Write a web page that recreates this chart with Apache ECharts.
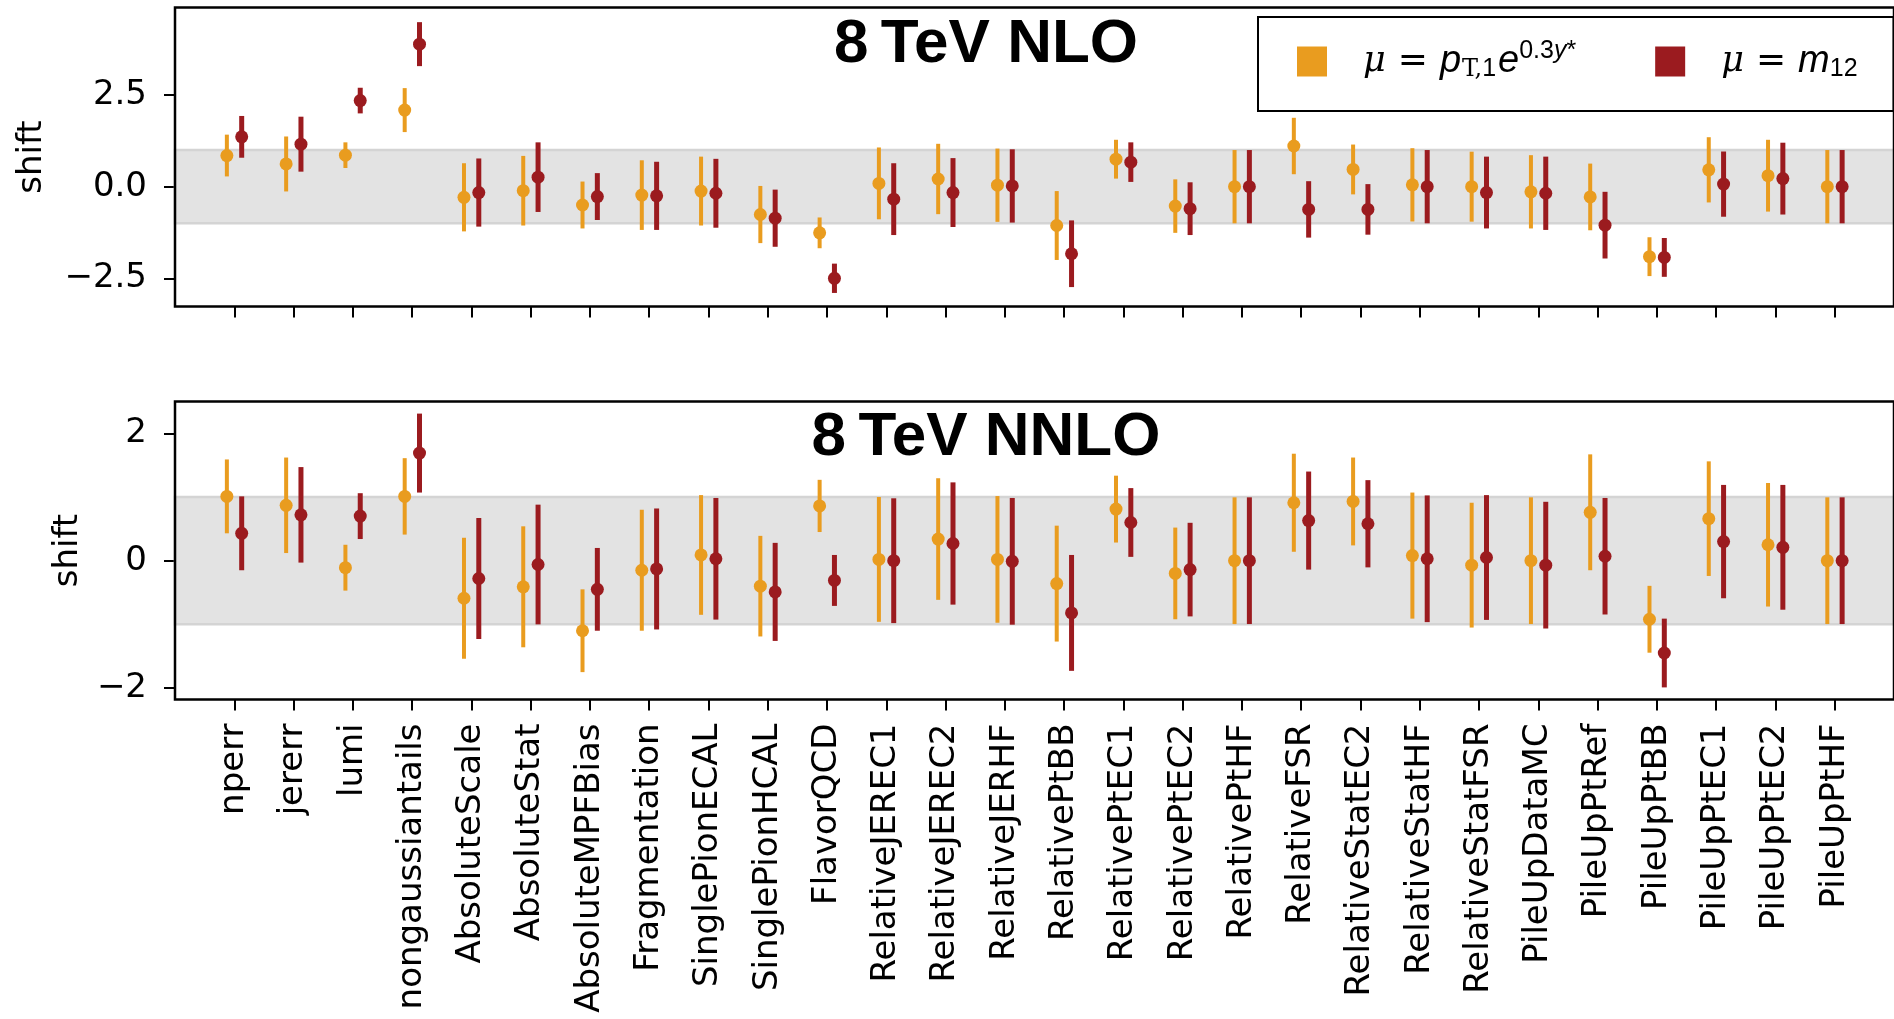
<!DOCTYPE html>
<html>
<head>
<meta charset="utf-8">
<script src="https://cdn.jsdelivr.net/npm/echarts@6/dist/echarts.min.js"></script>
<style>
  html, body { margin: 0; padding: 0; background: #fff; }
  #main { width: 1894px; height: 1019px; }
</style>
</head>
<body>
<div id="main"></div>
<script>
// 类别(不确定性来源)
const categories = ['nperr', 'jererr', 'lumi', 'nongaussiantails', 'AbsoluteScale', 'AbsoluteStat',
  'AbsoluteMPFBias', 'Fragmentation', 'SinglePionECAL', 'SinglePionHCAL', 'FlavorQCD',
  'RelativeJEREC1', 'RelativeJEREC2', 'RelativeJERHF', 'RelativePtBB', 'RelativePtEC1',
  'RelativePtEC2', 'RelativePtHF', 'RelativeFSR', 'RelativeStatEC2', 'RelativeStatHF',
  'RelativeStatFSR', 'PileUpDataMC', 'PileUpPtRef', 'PileUpPtBB', 'PileUpPtEC1',
  'PileUpPtEC2', 'PileUpPtHF']

// 8 TeV NLO, mu = pT,1 e^{0.3y*}
const nloPt = [0.85, 0.62, 0.86, 2.09, -0.29, -0.11, -0.5, -0.23, -0.12, -0.76, -1.26, 0.09, 0.21, 0.04,
  -1.06, 0.75, -0.53, 0.0, 1.11, 0.47, 0.05, 0.0, -0.14, -0.28, -1.91, 0.46, 0.3, 0.0]
const nloPtErr = [0.57, 0.75, 0.35, 0.6, 0.93, 0.95, 0.64, 0.95, 0.94, 0.78, 0.42, 0.98, 0.96, 1.0,
  0.94, 0.53, 0.73, 1.0, 0.77, 0.68, 1.0, 0.955, 1.0, 0.91, 0.53, 0.89, 0.98, 1.0]
// 8 TeV NLO, mu = m12
const nloM12 = [1.36, 1.16, 2.35, 3.89, -0.16, 0.26, -0.27, -0.25, -0.18, -0.86, -2.5, -0.34, -0.16, 0.02,
  -1.83, 0.67, -0.6, 0.0, -0.62, -0.62, 0.0, -0.16, -0.18, -1.05, -1.93, 0.07, 0.22, 0.0]
const nloM12Err = [0.57, 0.75, 0.35, 0.6, 0.93, 0.95, 0.64, 0.93, 0.94, 0.78, 0.4, 0.98, 0.94, 1.0,
  0.91, 0.54, 0.72, 1.0, 0.77, 0.69, 1.0, 0.98, 1.0, 0.91, 0.53, 0.89, 0.98, 1.0]

// 8 TeV NNLO
const nnloPt = [1.01, 0.87, -0.11, 1.01, -0.59, -0.41, -1.1, -0.15, 0.09, -0.4, 0.86, 0.02, 0.34, 0.02,
  -0.36, 0.81, -0.2, 0.0, 0.91, 0.93, 0.08, -0.07, 0.0, 0.76, -0.92, 0.66, 0.25, 0.0]
const nnloPtErr = [0.58, 0.75, 0.36, 0.6, 0.95, 0.95, 0.65, 0.95, 0.94, 0.79, 0.41, 0.98, 0.955, 0.995,
  0.91, 0.525, 0.72, 0.995, 0.77, 0.69, 0.99, 0.98, 0.995, 0.91, 0.525, 0.9, 0.97, 0.995]
const nnloM12 = [0.43, 0.72, 0.7, 1.69, -0.28, -0.06, -0.45, -0.13, 0.03, -0.49, -0.31, 0.0, 0.27, -0.01,
  -0.82, 0.6, -0.14, 0.0, 0.63, 0.58, 0.03, 0.05, -0.07, 0.07, -1.45, 0.3, 0.21, 0.0]
const nnloM12Err = [0.58, 0.75, 0.36, 0.62, 0.95, 0.94, 0.65, 0.95, 0.955, 0.77, 0.4, 0.98, 0.96, 0.995,
  0.91, 0.54, 0.735, 0.995, 0.77, 0.685, 0.995, 0.98, 0.995, 0.915, 0.54, 0.89, 0.98, 0.995]

const yTicksNLO = [-2.5, 0, 2.5]
const yTicksNNLO = [-2, 0, 2]

const ORANGE = '#e99c1f'
const RED = '#9b1b1f'
const FONT = 'DejaVu Sans'
const xTickValues = categories.map((c, i) => i)

function minus (v, digits) {
  const s = Math.abs(v).toFixed(digits)
  return v < 0 ? '\u2212' + s : s
}

function toPoints (vals, errs, shift) {
  return vals.map((v, i) => [i + shift, v, errs[i]])
}

function errRenderer (lineWidth) {
  return function (params, api) {
    const x = api.value(0)
    const v = api.value(1)
    const e = api.value(2)
    const top = api.coord([x, v + e])
    const bot = api.coord([x, v - e])
    const c = api.coord([x, v])
    const color = api.visual('color')
    return {
      type: 'group',
      children: [
        { type: 'line', shape: { x1: top[0], y1: top[1], x2: bot[0], y2: bot[1] }, style: { stroke: color, lineWidth: lineWidth } },
        { type: 'circle', shape: { cx: c[0], cy: c[1], r: 6.5 }, style: { fill: color } }
      ]
    }
  }
}

function band () {
  return {
    silent: true,
    itemStyle: { color: '#e3e3e3', borderColor: '#d4d4d4', borderWidth: 2.5 },
    data: [[{ yAxis: -1 }, { yAxis: 1 }]]
  }
}

function xAxisFor (gridIndex, showLabels) {
  return {
    type: 'value',
    gridIndex: gridIndex,
    min: -1,
    max: 28,
    splitLine: { show: false },
    axisLine: { show: false, onZero: false },
    axisTick: { show: true, length: 11, customValues: xTickValues, lineStyle: { color: '#000', width: 2 } },
    axisLabel: {
      show: showLabels,
      customValues: xTickValues,
      rotate: 90,
      margin: 24,
      fontFamily: FONT,
      fontSize: 34,
      color: '#000',
      formatter: v => categories[Math.round(v)]
    }
  }
}

function yAxisFor (gridIndex, min, max, ticks, digits, nameGap) {
  return {
    type: 'value',
    gridIndex: gridIndex,
    min: min,
    max: max,
    name: 'shift',
    nameLocation: 'middle',
    nameGap: nameGap,
    nameTextStyle: { fontFamily: FONT, fontSize: 34, color: '#000' },
    splitLine: { show: false },
    axisLine: { show: false, onZero: false },
    axisTick: { show: true, length: 11, customValues: ticks, lineStyle: { color: '#000', width: 2 } },
    axisLabel: {
      customValues: ticks,
      margin: 28,
      fontFamily: FONT,
      fontSize: 34,
      color: '#000',
      formatter: v => minus(v, digits)
    }
  }
}

const gridStyle = { show: true, borderColor: '#000', borderWidth: 2.5, backgroundColor: 'transparent', z: 10 }

const chart = echarts.init(document.getElementById('main'))
const option = {
  backgroundColor: '#fff',
  animation: false,
  grid: [
    Object.assign({ left: 175, right: -6.5, top: 7.5, height: 299 }, gridStyle),
    Object.assign({ left: 175, right: -6.5, top: 401.5, height: 298 }, gridStyle)
  ],
  xAxis: [xAxisFor(0, false), xAxisFor(1, true)],
  yAxis: [
    yAxisFor(0, -3.27, 4.89, yTicksNLO, 1, 126),
    yAxisFor(1, -2.18, 2.5, yTicksNNLO, 0, 90)
  ],
  graphic: [
    { type: 'text', x: 986, y: 14, z: 100, style: { text: '8\u2009TeV NLO', fontFamily: 'Liberation Sans', fontWeight: 'bold', fontSize: 62, fill: '#000', align: 'center', verticalAlign: 'top' } },
    { type: 'text', x: 986, y: 407, z: 100, style: { text: '8\u2009TeV NNLO', fontFamily: 'Liberation Sans', fontWeight: 'bold', fontSize: 62, fill: '#000', align: 'center', verticalAlign: 'top' } }
  ],
  legend: {
    left: 1258,
    top: 17,
    orient: 'horizontal',
    selectedMode: false,
    itemWidth: 30,
    itemHeight: 30,
    itemGap: 79,
    padding: [22, 36, 29, 39],
    borderColor: '#000',
    borderWidth: 2,
    borderRadius: 0,
    backgroundColor: '#fff',
    data: [{ name: 'pt', icon: 'rect' }, { name: 'm12', icon: 'rect' }],
    formatter: name => name === 'pt'
      ? '{g| }{mu|\u03bc}{eq|=}{it|p}{sbr|T,}{sb|1}{it|e}{sp|0.3}{spi|y}{sp|*}'
      : '{g| }{mu|\u03bc}{eq|=}{it|m}{sb|12}',
    textStyle: {
      color: '#000',
      rich: {
        g: { width: 31 },
        mu: { fontFamily: 'DejaVu Serif', fontStyle: 'italic', fontSize: 35, color: '#000' },
        eq: { fontFamily: FONT, fontSize: 36, padding: [0, 12, 0, 12], color: '#000' },
        it: { fontFamily: 'Liberation Sans', fontStyle: 'italic', fontSize: 38, color: '#000' },
        sbr: { fontFamily: 'DejaVu Serif', fontSize: 24, padding: [16, 0, 0, 1], color: '#000' },
        sb: { fontFamily: 'Liberation Sans', fontSize: 25, padding: [16, 2, 0, 0], color: '#000' },
        sp: { fontFamily: 'Liberation Sans', fontSize: 25, padding: [0, 0, 20, 0], color: '#000' },
        spi: { fontFamily: 'Liberation Sans', fontStyle: 'italic', fontSize: 25, padding: [0, 0, 20, 0], color: '#000' }
      }
    }
  },
  series: [
    {
      name: 'pt', type: 'custom', xAxisIndex: 0, yAxisIndex: 0,
      itemStyle: { color: ORANGE },
      renderItem: errRenderer(4),
      data: toPoints(nloPt, nloPtErr, -0.125),
      markArea: band()
    },
    {
      name: 'm12', type: 'custom', xAxisIndex: 0, yAxisIndex: 0,
      itemStyle: { color: RED },
      renderItem: errRenderer(5),
      data: toPoints(nloM12, nloM12Err, 0.125)
    },
    {
      name: 'pt', type: 'custom', xAxisIndex: 1, yAxisIndex: 1,
      itemStyle: { color: ORANGE },
      renderItem: errRenderer(4),
      data: toPoints(nnloPt, nnloPtErr, -0.125),
      markArea: band()
    },
    {
      name: 'm12', type: 'custom', xAxisIndex: 1, yAxisIndex: 1,
      itemStyle: { color: RED },
      renderItem: errRenderer(5),
      data: toPoints(nnloM12, nnloM12Err, 0.125)
    }
  ]
}
chart.setOption(option)
</script>
</body>
</html>
